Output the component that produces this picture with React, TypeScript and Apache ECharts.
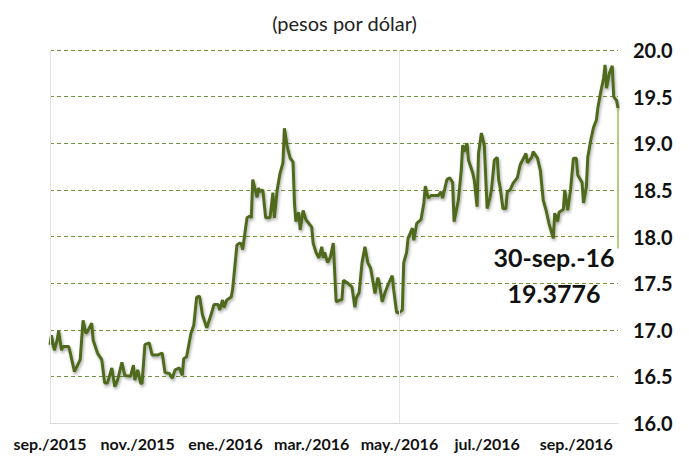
import React, { useEffect, useRef } from "react";
import * as echarts from "echarts";

// Daily FIX exchange rate (pesos per dollar), 1 Sep 2015 – 30 Sep 2016
const startDate = "2015-09-01";
const totalDays = 396; // 1 Sep 2015 .. 30 Sep 2016

// days since 1 Sep 2015 for each observation
const dayOffsets = [
  0, 1, 3, 5, 6, 8, 9, 13, 14, 17, 21, 23, 25, 26, 29, 30, 33, 36, 38, 40,
  43, 45, 47, 50, 52, 56, 58, 59, 61, 63, 64, 66, 69, 71, 75, 78, 80, 83, 85, 87,
  90, 92, 93, 95, 98, 100, 102, 104, 106, 109, 112, 114, 117, 118, 120, 121, 123, 126, 127, 130,
  132, 133, 134, 137, 139, 140, 141, 144, 145, 146, 148, 150, 152, 153, 155, 156, 158, 160, 162, 163,
  165, 167, 169, 170, 171, 173, 174, 176, 178, 180, 182, 183, 185, 187, 189, 190, 191, 193, 195, 197,
  199, 202, 203, 204, 207, 210, 212, 213, 215, 217, 219, 221, 223, 224, 226, 228, 229, 231, 233, 235,
  238, 239, 241, 242, 245, 246, 248, 249, 252, 253, 255, 258, 260, 261, 263, 265, 267, 270, 272, 273,
  276, 278, 280, 281, 284, 286, 287, 288, 290, 291, 294, 295, 297, 298, 300, 302, 304, 306, 307, 309,
  311, 312, 313, 315, 317, 318, 320, 322, 325, 327, 331, 332, 335, 336, 339, 341, 343, 345, 347, 350,
  351, 353, 354, 357, 358, 360, 362, 364, 366, 367, 370, 371, 373, 374, 376, 378, 380, 381, 383, 385,
  386, 387, 389, 391, 392, 394, 395,
];

const rates = [
  16.84, 16.94, 16.78, 16.89, 16.99, 16.78, 16.82, 16.82, 16.76, 16.55, 16.68, 17.1, 16.96, 16.98, 17.07, 16.89, 16.75, 16.68, 16.43, 16.43,
  16.59, 16.39, 16.46, 16.65, 16.51, 16.5, 16.62, 16.46, 16.57, 16.43, 16.42, 16.84, 16.86, 16.73, 16.73, 16.75, 16.54, 16.53, 16.48, 16.57,
  16.59, 16.51, 16.69, 16.71, 16.96, 17.05, 17.35, 17.36, 17.16, 17.02, 17.16, 17.27, 17.27, 17.21, 17.32, 17.24, 17.32, 17.35, 17.43, 17.91,
  17.93, 17.92, 17.86, 18.2, 18.22, 18.2, 18.61, 18.42, 18.52, 18.48, 18.5, 18.2, 18.2, 18.2, 18.47, 18.2, 18.5, 18.68, 18.79, 19.16,
  18.96, 18.84, 18.8, 18.36, 18.16, 18.26, 18.07, 18.28, 18.18, 18.14, 18.1, 17.93, 17.83, 17.77, 17.89, 17.77, 17.83, 17.72, 17.78, 17.93,
  17.3, 17.32, 17.32, 17.53, 17.5, 17.46, 17.24, 17.34, 17.4, 17.72, 17.89, 17.72, 17.66, 17.57, 17.39, 17.56, 17.5, 17.3, 17.4, 17.48,
  17.58, 17.43, 17.19, 17.18, 17.21, 17.72, 17.83, 17.98, 18.09, 17.96, 18.14, 18.18, 18.36, 18.54, 18.41, 18.44, 18.44, 18.44, 18.48, 18.41,
  18.61, 18.63, 18.58, 18.16, 18.39, 18.71, 18.98, 18.91, 19.0, 18.82, 18.68, 18.61, 18.32, 18.89, 19.11, 18.98, 18.3, 18.42, 18.5, 18.82,
  18.85, 18.61, 18.53, 18.3, 18.3, 18.48, 18.5, 18.57, 18.63, 18.77, 18.89, 18.79, 18.85, 18.91, 18.84, 18.71, 18.39, 18.28, 18.14, 17.98,
  18.25, 18.16, 18.26, 18.29, 18.5, 18.28, 18.5, 18.84, 18.84, 18.66, 18.58, 18.36, 18.53, 18.85, 19.03, 19.17, 19.25, 19.38, 19.55, 19.7,
  19.84, 19.59, 19.75, 19.83, 19.5, 19.46, 19.3776,
];

const monthAbbr = ["ene", "feb", "mar", "abr", "may", "jun", "jul", "ago", "sep", "oct", "nov", "dic"];
const labelMonths = [9, 11, 1, 3, 5, 7]; // months shown on the x axis (first day)
const titleText = "(pesos por dólar)";
const lastDateText = "30-sep.-16";
const leaderEndValue = 17.87;
const refLineDay = 243; // 1 May 2016 (faint vertical reference line)

const yMin = 16;
const yMax = 20;
const yStep = 0.5;

function buildCategories(): string[] {
  const [y, m, d] = startDate.split("-").map(Number);
  const base = Date.UTC(y, m - 1, d);
  const out: string[] = [];
  for (let i = 0; i < totalDays; i++) {
    const dt = new Date(base + i * 86400000);
    const mm = String(dt.getUTCMonth() + 1).padStart(2, "0");
    const dd = String(dt.getUTCDate()).padStart(2, "0");
    out.push(`${dt.getUTCFullYear()}-${mm}-${dd}`);
  }
  return out;
}

export default function App() {
  const ref = useRef<HTMLDivElement>(null);

  useEffect(() => {
    if (!ref.current) return;
    const chart = echarts.init(ref.current, undefined, { renderer: "svg" });
    const categories = buildCategories();
    const data = dayOffsets.map((d, i) => [d, rates[i]]);
    const lastIdx = dayOffsets[dayOffsets.length - 1];
    const lastVal = rates[rates.length - 1];
    const font = "Lato";

    chart.setOption({
      animation: false,
      backgroundColor: "#ffffff",
      title: {
        text: titleText,
        left: "center",
        top: 8,
        textStyle: { fontFamily: font, fontSize: 20, fontWeight: "normal", color: "#222" },
      },
      grid: { left: 50, right: 71, top: 50, bottom: 33 },
      xAxis: {
        type: "category",
        data: categories,
        boundaryGap: false,
        axisLine: { show: true, lineStyle: { color: "#D9D9D9", width: 1 } },
        axisTick: { show: false },
        splitLine: { show: false },
        axisLabel: {
          interval: (_i: number, v: string) => {
            const [, m, d] = v.split("-").map(Number);
            return d === 1 && labelMonths.includes(m);
          },
          formatter: (v: string) => {
            const [y, m] = v.split("-").map(Number);
            return `${monthAbbr[m - 1]}./${y}`;
          },
          margin: 12,
          fontFamily: font,
          fontWeight: "bold",
          fontSize: 16,
          color: "#111",
        },
      },
      yAxis: {
        type: "value",
        position: "right",
        min: yMin,
        max: yMax,
        interval: yStep,
        axisLine: { show: false },
        axisTick: { show: false },
        axisLabel: {
          formatter: (v: number) => v.toFixed(1),
          margin: 15,
          fontFamily: font,
          fontWeight: "bold",
          fontSize: 20,
          color: "#111",
        },
        splitLine: {
          show: true,
          lineStyle: { color: "#76923C", type: [4, 3], width: 1 },
        },
      },
      series: [
        {
          type: "line",
          data,
          showSymbol: false,
          symbol: "none",
          lineStyle: {
            color: "#4F6B1F",
            width: 3,
            shadowColor: "rgba(0,0,0,0.35)",
            shadowBlur: 3,
            shadowOffsetX: 1,
            shadowOffsetY: 2,
          },
          z: 3,
          markLine: {
            silent: true,
            symbol: "none",
            label: { show: false },
            data: [
              [
                { coord: [lastIdx, lastVal], lineStyle: { color: "#9BBB59", width: 1.5, type: "solid", shadowBlur: 0 } },
                { coord: [lastIdx, leaderEndValue] },
              ],
              { xAxis: 0, lineStyle: { color: "#E3E3E3", width: 1, type: "solid", shadowBlur: 0 } },
              { xAxis: refLineDay, lineStyle: { color: "#E3E3E3", width: 1, type: "solid", shadowBlur: 0 } },
            ],
          },
          markPoint: {
            silent: true,
            symbol: "circle",
            symbolSize: 0,
            data: [
              {
                coord: [lastIdx, leaderEndValue],
                label: {
                  show: true,
                  position: "bottom",
                  distance: 0,
                  offset: [-64, -10],
                  formatter: `${lastDateText}\n${lastVal}`,
                  align: "center",
                  fontFamily: font,
                  fontWeight: "bold",
                  fontSize: 25,
                  lineHeight: 36,
                  color: "#111",
                },
              },
            ],
          },
        },
      ],
    });

    return () => chart.dispose();
  }, []);

  return (
    <div
      ref={ref}
      style={{ position: "absolute", left: 0, top: 0, width: 689, height: 456 }}
    />
  );
}
